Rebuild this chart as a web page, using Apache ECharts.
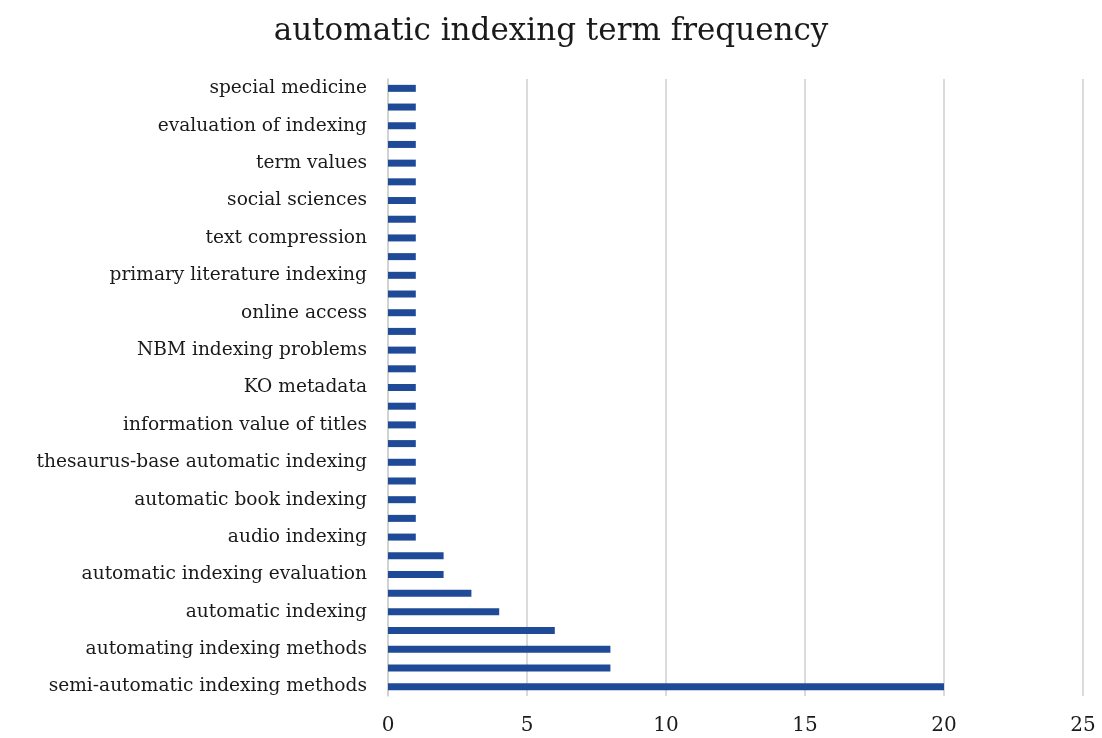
<!DOCTYPE html>
<html><head><meta charset="utf-8">
<script src="https://cdn.jsdelivr.net/npm/echarts@6/dist/echarts.min.js"></script>
<style>html,body{margin:0;padding:0;background:#fff}#c{width:1102px;height:738px}</style>
</head><body><div id="c"></div>
<script>
// bottom to top
var categories = [
  "semi-automatic indexing methods", "",
  "automating indexing methods", "",
  "automatic indexing", "",
  "automatic indexing evaluation", "",
  "audio indexing", "",
  "automatic book indexing", "",
  "thesaurus-base automatic indexing", "",
  "information value of titles", "",
  "KO metadata", "",
  "NBM indexing problems", "",
  "online access", "",
  "primary literature indexing", "",
  "text compression", "",
  "social sciences", "",
  "term values", "",
  "evaluation of indexing", "",
  "special medicine"
];
var values = [20, 8, 8, 6, 4, 3, 2, 2, 1, 1, 1, 1, 1, 1, 1, 1, 1, 1, 1, 1, 1, 1, 1, 1, 1, 1, 1, 1, 1, 1, 1, 1, 1];
var xTicks = { min: 0, max: 25, interval: 5 };

var chart = echarts.init(document.getElementById('c'));
chart.setOption({
  animation: false,
  title: {
    text: 'automatic indexing term frequency',
    left: 'center', top: 11,
    textStyle: { fontFamily: 'DejaVu Serif', fontSize: 31, fontWeight: 'normal', color: '#1a1a1a' }
  },
  grid: { left: 388, right: 19, top: 79, bottom: 42 },
  xAxis: {
    type: 'value', min: xTicks.min, max: xTicks.max, interval: xTicks.interval,
    axisLine: { show: false }, axisTick: { show: false },
    splitLine: { lineStyle: { color: '#cfcfcf', width: 1.5 } },
    axisLabel: { fontFamily: 'DejaVu Serif', fontSize: 20, color: '#1a1a1a', margin: 20 }
  },
  yAxis: {
    type: 'category', data: categories,
    axisLine: { show: true, lineStyle: { color: '#cfcfcf', width: 1.5 } },
    axisTick: { show: false },
    axisLabel: { interval: 0, fontFamily: 'DejaVu Serif', fontSize: 18.6, color: '#1a1a1a', margin: 21 }
  },
  series: [{
    type: 'bar', data: values, barWidth: 7,
    itemStyle: { color: '#1F4A97' }
  }]
});
</script></body></html>
